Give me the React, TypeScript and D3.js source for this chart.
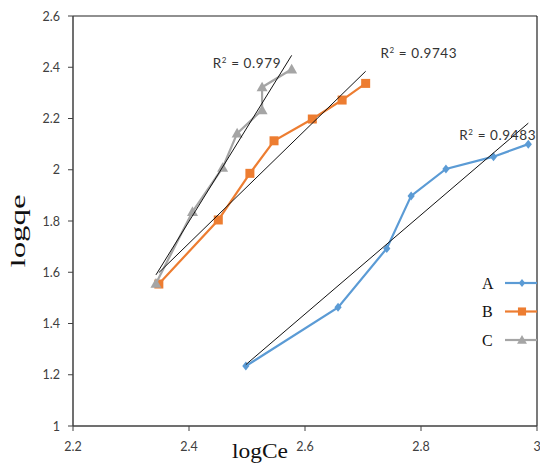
import React from "react";
import * as d3 from "d3";

const seriesNames = ["A", "B", "C"];
const seriesColors = ["#5B9BD5", "#ED7D31", "#A5A5A5"];
const aX = [2.498, 2.657, 2.741, 2.783, 2.843, 2.925, 2.985];
const aY = [1.234, 1.463, 1.693, 1.898, 2.003, 2.051, 2.1];
const bX = [2.348, 2.4505, 2.505, 2.5466, 2.6126, 2.664, 2.7046];
const bY = [1.554, 1.804, 1.986, 2.113, 2.198, 2.272, 2.337];
const cX = [2.343, 2.406, 2.458, 2.483, 2.526, 2.526, 2.577];
const cY = [1.556, 1.836, 2.008, 2.142, 2.233, 2.322, 2.392];
const r2Labels = ["0.9483", "0.9743", "0.979"];
const r2Pos = [
  [2.866, 2.115],
  [2.73, 2.436],
  [2.441, 2.398],
];
const xTicks = [2.2, 2.4, 2.6, 2.8, 3];
const yTicks = [1, 1.2, 1.4, 1.6, 1.8, 2, 2.2, 2.4, 2.6];

const W = 540;
const H = 465;
const L = 73, R = 537, T = 16, B = 426;

function regress(xs: number[], ys: number[]) {
  const mx = d3.mean(xs)!;
  const my = d3.mean(ys)!;
  let sxy = 0, sxx = 0;
  xs.forEach((x, i) => {
    sxy += (x - mx) * (ys[i] - my);
    sxx += (x - mx) * (x - mx);
  });
  const m = sxy / sxx;
  return (x: number) => my + m * (x - mx);
}

export default function App() {
  const x = d3.scaleLinear().domain([2.2, 3]).range([L, R]);
  const y = d3.scaleLinear().domain([1, 2.6]).range([B, T]);
  const fmt = (d: number) => String(+d.toFixed(1));
  const all = [
    { xs: aX, ys: aY },
    { xs: bX, ys: bY },
    { xs: cX, ys: cY },
  ];
  const line = d3
    .line<[number, number]>()
    .x((d) => x(d[0]))
    .y((d) => y(d[1]));

  const marker = (i: number, cx: number, cy: number, key: any, s = 1) => {
    const c = seriesColors[i];
    if (i === 0) {
      const r = 4.5 * s;
      return (
        <path
          key={key}
          d={`M${cx},${cy - r}L${cx + r * 0.8},${cy}L${cx},${cy + r}L${cx - r * 0.8},${cy}Z`}
          fill={c}
        />
      );
    }
    if (i === 1) {
      const r = 4.5 * s;
      return <rect key={key} x={cx - r} y={cy - r} width={2 * r} height={2 * r} fill={c} />;
    }
    const r = 5.5 * s;
    return (
      <path
        key={key}
        d={`M${cx},${cy - r}L${cx + r},${cy + r * 0.75}L${cx - r},${cy + r * 0.75}Z`}
        fill={c}
      />
    );
  };

  const tickFont = "Lato, 'Noto Sans', sans-serif";

  return (
    <svg
      width={W}
      height={H}
      style={{ position: "absolute", left: 0, top: 0, background: "#fff" }}
    >
      <rect x={0} y={0} width={W} height={H} fill="#fff" />
      {/* frame */}
      <line x1={L} x2={R} y1={T} y2={T} stroke="#222" strokeWidth={1.2} />
      <line x1={R} x2={R} y1={T} y2={B} stroke="#222" strokeWidth={1.2} />
      <line x1={L} x2={L} y1={T} y2={B} stroke="#404040" strokeWidth={1.5} />
      <line x1={L} x2={R} y1={B} y2={B} stroke="#404040" strokeWidth={1.5} />
      {yTicks.map((t) => (
        <g key={"y" + t}>
          <line x1={L - 5} x2={L} y1={y(t)} y2={y(t)} stroke="#404040" strokeWidth={1} />
          <text
            x={L - 13}
            y={y(t) + 4.5}
            textAnchor="end"
            fontSize={12.5}
            fill="#404040"
            fontFamily={tickFont}
          >
            {fmt(t)}
          </text>
        </g>
      ))}
      {xTicks.map((t) => (
        <g key={"x" + t}>
          <line x1={x(t)} x2={x(t)} y1={B} y2={B + 5} stroke="#404040" strokeWidth={1} />
          <text
            x={x(t)}
            y={B + 25}
            textAnchor="middle"
            fontSize={12.5}
            fill="#404040"
            fontFamily={tickFont}
          >
            {fmt(t)}
          </text>
        </g>
      ))}
      {/* series */}
      {all.map((s, i) => {
        const pts = s.xs.map((v, j) => [v, s.ys[j]] as [number, number]);
        return (
          <g key={"s" + i}>
            <path d={line(pts)!} fill="none" stroke={seriesColors[i]} strokeWidth={2.2} />
            {pts.map((p, j) => marker(i, x(p[0]), y(p[1]), j))}
          </g>
        );
      })}
      {/* trendlines */}
      {all.map((s, i) => {
        const f = regress(s.xs, s.ys);
        const x0 = d3.min(s.xs)!;
        const x1 = d3.max(s.xs)!;
        return (
          <line
            key={"t" + i}
            x1={x(x0)}
            y1={y(f(x0))}
            x2={x(x1)}
            y2={y(f(x1))}
            stroke="#111"
            strokeWidth={1}
          />
        );
      })}
      {/* R2 labels */}
      {r2Labels.map((l, i) => (
        <text
          key={"r" + i}
          x={x(r2Pos[i][0])}
          y={y(r2Pos[i][1])}
          fontSize={13.5}
          letterSpacing={0.6}
          fill="#333"
          fontFamily={tickFont}
        >
          R
          <tspan fontSize={8} dy={-5}>
            2
          </tspan>
          <tspan dy={5}>{" = " + l}</tspan>
        </text>
      ))}
      {/* legend */}
      {seriesNames.map((n, i) => {
        const ly = 283 + i * 28.5;
        return (
          <g key={"l" + i}>
            <text
              x={482}
              y={ly + 5.5}
              fontSize={16}
              fontFamily="'Liberation Serif', 'Times New Roman', serif"
              fill="#111"
            >
              {n}
            </text>
            <line x1={505} x2={R} y1={ly} y2={ly} stroke={seriesColors[i]} strokeWidth={2.2} />
            {marker(i, 522, ly, "m", 0.9)}
          </g>
        );
      })}
      {/* axis titles */}
      <text
        x={232}
        y={458}
        fontSize={22}
        fontFamily="'Liberation Serif', 'Times New Roman', serif"
        fill="#111"
        textLength={56}
        lengthAdjust="spacingAndGlyphs"
      >
        logCe
      </text>
      <text
        transform="translate(25,231) rotate(-90)"
        textAnchor="middle"
        fontSize={22}
        fontFamily="'Liberation Serif', 'Times New Roman', serif"
        fill="#111"
        textLength={73}
        lengthAdjust="spacingAndGlyphs"
      >
        logqe
      </text>
    </svg>
  );
}
